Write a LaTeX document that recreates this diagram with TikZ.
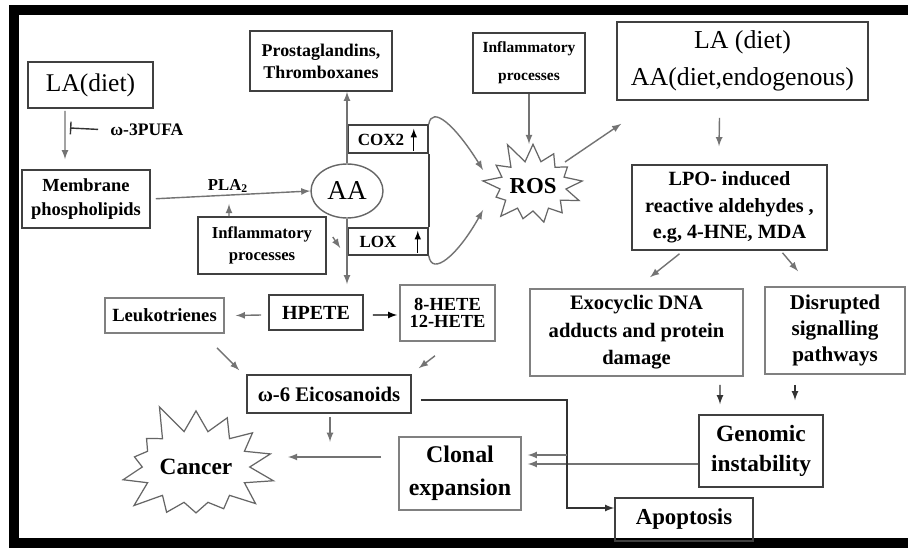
\documentclass[tikz,border=0pt]{standalone}
\usepackage{fontspec}
\setmainfont{Liberation Serif}
\usetikzlibrary{arrows,positioning,calc,shapes.geometric,shapes.symbols}

\begin{document}
\begin{tikzpicture}[x=0.02cm, y=-0.02cm,
  box/.style={draw=black!75, line width=0.9pt, align=center, inner sep=0pt},
  lbox/.style={box, draw=black!50},
  bf/.style 2 args={font=\bfseries\fontsize{#1}{#2}\selectfont},
  rm/.style 2 args={font=\fontsize{#1}{#2}\selectfont},
  arr/.style={-latex, draw=black!55, line width=0.8pt},
  burst/.style={starburst, draw=black!60, line width=0.7pt, align=center, inner sep=0pt}
]
  \useasboundingbox (0,0) rectangle (908,550);
  \fill[white] (0,0) rectangle (908,550);
  \draw[line width=0.19cm] (908,10) -- (14,10) -- (14,543) -- (908,543);

  \node[box, rm={14.5}{17}, minimum width=2.5cm, minimum height=0.92cm] (ladiet) at (90.5,85) {LA(diet)};
  \node[box, bf={10.5}{13.6}, minimum width=2.56cm, minimum height=1.16cm] (membr) at (86,199) {Membrane\\phospholipids};
  \node[bf={10}{12}, anchor=west, inner sep=0pt] (omg) at (110,130) {ω-3PUFA};
  \node[bf={9.5}{11}] (pla) at (228,186) {PLA\textsubscript{2}};
  \node[box, bf={10.2}{12.5}, minimum width=2.84cm, minimum height=1.2cm] (prost) at (321,61) {Prostaglandins,\\Thromboxanes};
  \node[box, bf={9.5}{12.5}, minimum width=2.56cm, minimum height=1.14cm] (inflL) at (262,245.5) {Inflammatory\\processes};
  \node[ellipse, draw=black!60, line width=0.8pt, rm={15.5}{18}, minimum width=1.44cm, minimum height=1.08cm, inner sep=0pt] (aa) at (347,191) {AA};
  \node[box, minimum width=1.6cm, minimum height=0.56cm] (cox) at (388,139) {};
  \node[bf={9.7}{11}] (coxt) at (381,140) {COX2};
  \node[box, minimum width=1.6cm, minimum height=0.54cm] (lox) at (388,241.5) {};
  \node[bf={9.7}{11}] (loxt) at (378,242) {LOX};
  \node[box, bf={8.8}{16}, minimum width=2.24cm, minimum height=1.2cm] (inflT) at (529,63) {Inflammatory\\processes};
  \node[burst, bf={13}{15}, minimum width=1.95cm, minimum height=1.9cm, starburst points=13, starburst point height=0.45cm, random starburst=11] (ros) at (533,186) {ROS};
  \node[box, rm={14.7}{21}, minimum width=5.02cm, minimum height=1.56cm] (laaa) at (742.5,61) {LA (diet)\\AA(diet,endogenous)};
  \node[box, bf={11.5}{15}, minimum width=3.9cm, minimum height=1.7cm] (lpo) at (729.5,207.5) {LPO- induced\\reactive aldehydes ,\\e.g, 4-HNE, MDA};
  \node[lbox, bf={11.7}{15.6}, minimum width=4.26cm, minimum height=1.74cm] (exo) at (636.5,332.5) {Exocyclic DNA\\adducts and protein\\damage};
  \node[lbox, bf={12}{15}, minimum width=2.8cm, minimum height=1.74cm] (disr) at (835,330.5) {Disrupted\\signalling\\pathways};
  \node[box, bf={13.3}{17}, minimum width=2.48cm, minimum height=1.44cm] (genom) at (761,451) {Genomic\\instability};
  \node[box, bf={13}{15}, minimum width=2.76cm, minimum height=0.86cm] (apop) at (684,519.5) {Apoptosis};
  \node[lbox, bf={13.6}{19}, minimum width=2.44cm, minimum height=1.46cm] (clonal) at (460,473.5) {Clonal\\expansion};
  \node[burst, bf={13.3}{15}, minimum width=3.45cm, minimum height=2.75cm, starburst points=14, starburst point height=0.65cm, random starburst=5] (cancer) at (196,467) {Cancer};
  \node[box, bf={11.8}{14}, minimum width=3.28cm, minimum height=0.76cm] (eico) at (329,394) {ω-6 Eicosanoids};
  \node[lbox, bf={10.6}{12}, minimum width=2.38cm, minimum height=0.7cm] (leuko) at (164.5,315.5) {Leukotrienes};
  \node[box, bf={11.4}{13}, minimum width=1.88cm, minimum height=0.7cm] (hpete) at (316,312.5) {HPETE};
  \node[lbox, bf={10.5}{10}, minimum width=1.9cm, minimum height=1.12cm] (hete) at (447.5,313) {8-HETE\\12-HETE};

  \coordinate (inh) at (70,128);
  \coordinate (plaj) at (229,199);
  \coordinate (split) at (567,455);
  \coordinate (eicod) at ($(eico.south)+(1,28)$);

  \draw[arr, shorten >=0.2cm, shorten <=0.04cm] ([xshift=-0.51cm]ladiet.south) -- ([xshift=-0.42cm]membr.north);
  \draw[-|, black!80, line width=0.8pt, shorten <=0.24cm] (omg.west) -- (inh);
  \draw[arr, shorten <=0.1cm] (membr.east) -- (aa.west);
  \draw[arr, shorten >=0.1cm] ([xshift=-0.66cm]inflL.north) -- (plaj);
  \draw[arr] (aa.north) -- (aa.north |- prost.south);
  \draw[arr, shorten >=0.2cm] (aa.south) -- (aa.south |- hpete.north);
  \draw[black!75, line width=0.9pt] (cox.south east) -- (lox.north east);
  \draw[-latex, line width=0.7pt] ($(cox.south east)+(-15,-3)$) -- ($(cox.south east)+(-15,-25)$);
  \draw[-latex, line width=0.7pt] ($(lox.south east)+(-11,-3)$) -- ($(lox.south east)+(-11,-25)$);
  \draw[arr] ($(inflL.east)+(6,-8.5)$) -- ($(lox.west)+(-7,6.5)$);
  \draw[arr] (cox.north east) .. controls (432,105) and (455,125) .. ($(ros.center)+(-50,-16)$);
  \draw[arr] (lox.south east) .. controls (432,277) and (458,255) .. ($(ros.center)+(-50,24)$);
  \draw[arr] (inflT.south) -- ($(ros.center)+(-4,-42)$);
  \draw[arr] ($(ros.center)+(32,-24)$) -- ($(laaa.south west)+(5,23)$);
  \draw[arr] ($(laaa.south)+(-23,17)$) -- ($(lpo.north)+(-10.5,-18)$);
  \draw[arr] ($(lpo.south)+(-50,3)$) -- ($(exo.north)+(13.5,-11)$);
  \draw[arr] ($(lpo.south)+(53,2)$) -- ($(disr.north)+(-37,-15)$);
  \draw[arr, draw=black!80] ($(exo.south)+(83.5,8)$) -- ($(genom.north)+(-41,-10)$);
  \draw[arr, draw=black!80] ($(disr.south)+(-40,10)$) -- ($(genom.north)+(34,-14)$);
  \draw[arr] ($(genom.west)+(0,13)$) -- ($(clonal.east)+(6,-9.5)$);
  \draw[arr, draw=black!80] ($(eico.east)+(9,6)$) -| (split) |- ($(apop.west)+(0,-11.5)$);
  \draw[arr] (split) -- ($(clonal.east)+(6,-18.5)$);
  \draw[arr] ($(clonal.west)+(-17,-16.5)$) -- ($(cancer.center)+(92,-10)$);
  \draw[arr] ($(eico.south)+(1,3)$) -- (eicod);
  \draw[arr] ($(hpete.west)+(-7,2.5)$) -- ($(leuko.east)+(11,0)$);
  \draw[arr, draw=black] ($(hpete.east)+(9,2.5)$) -- ($(hete.west)+(-2,2)$);
  \draw[arr] ($(leuko.south)+(52.5,14)$) -- ($(eico.north west)+(-7,-4)$);
  \draw[arr] ($(hete.south)+(-12.5,14)$) -- ($(eico.north east)+(7,-6)$);
\end{tikzpicture}
\end{document}
